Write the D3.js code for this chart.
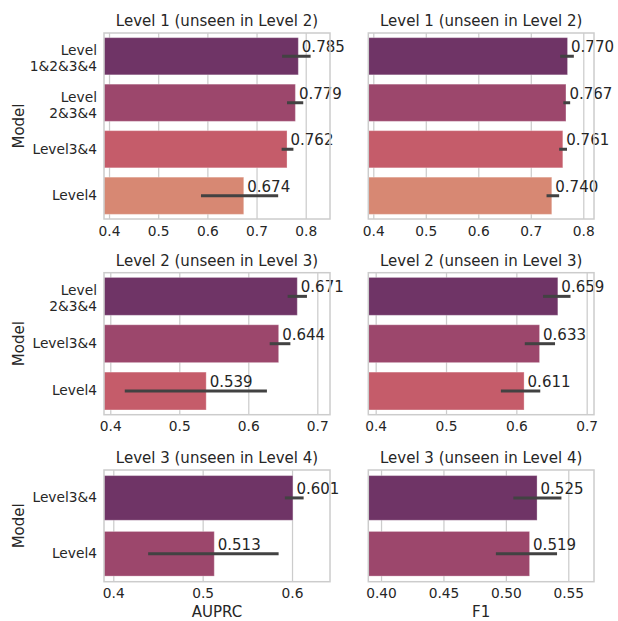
<!DOCTYPE html>
<html>
<head>
<meta charset="utf-8">
<script src="https://cdn.jsdelivr.net/npm/d3@7"></script>
<style>
  html, body { margin: 0; padding: 0; background: #fff; }
  svg { display: block; font-family: "DejaVu Sans", sans-serif; }
</style>
</head>
<body>
<svg id="chart" width="618" height="621"></svg>
<script>
// ---- data ----
const metricNames = ["AUPRC", "F1"];
const panelTitles = [
  "Level 1 (unseen in Level 2)",
  "Level 2 (unseen in Level 3)",
  "Level 3 (unseen in Level 4)"
];
const modelsLevel1 = ["Level\n1&2&3&4", "Level\n2&3&4", "Level3&4", "Level4"];
const modelsLevel2 = ["Level\n2&3&4", "Level3&4", "Level4"];
const modelsLevel3 = ["Level3&4", "Level4"];

const auprcLevel1 = [0.785, 0.779, 0.762, 0.674];
const auprcLevel1Low = [0.752, 0.762, 0.751, 0.587];
const auprcLevel1High = [0.810, 0.795, 0.775, 0.744];
const f1Level1 = [0.770, 0.767, 0.761, 0.740];
const f1Level1Low = [0.756, 0.762, 0.754, 0.730];
const f1Level1High = [0.782, 0.775, 0.769, 0.754];

const auprcLevel2 = [0.671, 0.644, 0.539];
const auprcLevel2Low = [0.657, 0.631, 0.421];
const auprcLevel2High = [0.685, 0.661, 0.627];
const f1Level2 = [0.659, 0.633, 0.611];
const f1Level2Low = [0.638, 0.612, 0.578];
const f1Level2High = [0.677, 0.655, 0.634];

const auprcLevel3 = [0.601, 0.513];
const auprcLevel3Low = [0.592, 0.439];
const auprcLevel3High = [0.613, 0.585];
const f1Level3 = [0.525, 0.519];
const f1Level3Low = [0.506, 0.492];
const f1Level3High = [0.5445, 0.541];

const ticksLevel1Auprc = [0.4, 0.5, 0.6, 0.7, 0.8];
const ticksLevel1F1 = [0.4, 0.5, 0.6, 0.7, 0.8];
const ticksLevel2Auprc = [0.4, 0.5, 0.6, 0.7];
const ticksLevel2F1 = [0.4, 0.5, 0.6, 0.7];
const ticksLevel3Auprc = [0.4, 0.5, 0.6];
const ticksLevel3F1 = [0.40, 0.45, 0.50, 0.55];

const limitsLevel1Auprc = [0.3898, 0.8494];
const limitsLevel1F1 = [0.3905, 0.8204];
const limitsLevel2Auprc = [0.3909, 0.7184];
const limitsLevel2F1 = [0.3895, 0.7104];
const limitsLevel3Auprc = [0.3896, 0.6425];
const limitsLevel3F1 = [0.3898, 0.5706];

const palette = ["#6f3466", "#9c476c", "#c55c6a", "#d78873"];

// ---- layout ----
const colX = [[104, 330], [368.3, 594]];
const rowY = [[33, 219], [272.7, 414.7], [470, 581.7]];
const textColor = "#262626";
const gridColor = "#cccccc";
const fontFamily = "'DejaVu Sans', sans-serif";

const panels = [
  { row: 0, col: 0, models: modelsLevel1, v: auprcLevel1, lo: auprcLevel1Low, hi: auprcLevel1High, ticks: ticksLevel1Auprc, lim: limitsLevel1Auprc, fmt: ".1f" },
  { row: 0, col: 1, models: modelsLevel1, v: f1Level1, lo: f1Level1Low, hi: f1Level1High, ticks: ticksLevel1F1, lim: limitsLevel1F1, fmt: ".1f" },
  { row: 1, col: 0, models: modelsLevel2, v: auprcLevel2, lo: auprcLevel2Low, hi: auprcLevel2High, ticks: ticksLevel2Auprc, lim: limitsLevel2Auprc, fmt: ".1f" },
  { row: 1, col: 1, models: modelsLevel2, v: f1Level2, lo: f1Level2Low, hi: f1Level2High, ticks: ticksLevel2F1, lim: limitsLevel2F1, fmt: ".1f" },
  { row: 2, col: 0, models: modelsLevel3, v: auprcLevel3, lo: auprcLevel3Low, hi: auprcLevel3High, ticks: ticksLevel3Auprc, lim: limitsLevel3Auprc, fmt: ".1f" },
  { row: 2, col: 1, models: modelsLevel3, v: f1Level3, lo: f1Level3Low, hi: f1Level3High, ticks: ticksLevel3F1, lim: limitsLevel3F1, fmt: ".2f" }
];

const svg = d3.select("#chart");

panels.forEach(p => {
  const [x0, x1] = colX[p.col];
  const [y0, y1] = rowY[p.row];
  const h = y1 - y0;

  const x = d3.scaleLinear().domain(p.lim).range([x0, x1]);
  const y = d3.scaleBand().domain(p.models).range([y0, y1])
    .paddingInner(0.2).paddingOuter(0.1);
  const g = svg.append("g");

  // vertical grid lines + tick labels
  const xAxis = g.append("g")
    .attr("transform", `translate(0,${y1})`)
    .call(d3.axisBottom(x).tickValues(p.ticks).tickSize(-h).tickPadding(7)
      .tickFormat(d3.format(p.fmt)))
    .attr("font-family", fontFamily)
    .attr("font-size", 13.75);
  xAxis.select(".domain").remove();
  xAxis.selectAll(".tick line").attr("stroke", gridColor).attr("stroke-width", 1.25);
  xAxis.selectAll(".tick text").attr("fill", textColor);

  // bars
  g.selectAll("rect.bar").data(p.v).enter().append("rect")
    .attr("class", "bar")
    .attr("x", x(p.lim[0]))
    .attr("y", (d, i) => y(p.models[i]))
    .attr("width", d => x(d) - x(p.lim[0]))
    .attr("height", y.bandwidth())
    .attr("fill", (d, i) => palette[i])
    .attr("stroke", "#ffffff")
    .attr("stroke-opacity", 0.3)
    .attr("stroke-width", 1);

  // confidence intervals
  g.selectAll("line.err").data(p.v).enter().append("line")
    .attr("class", "err")
    .attr("x1", (d, i) => x(p.lo[i]))
    .attr("x2", (d, i) => x(p.hi[i]))
    .attr("y1", (d, i) => y(p.models[i]) + y.bandwidth() / 2)
    .attr("y2", (d, i) => y(p.models[i]) + y.bandwidth() / 2)
    .attr("stroke", "#424242")
    .attr("stroke-width", 3);

  // value labels
  g.selectAll("text.val").data(p.v).enter().append("text")
    .attr("class", "val")
    .attr("x", d => x(d) + 3.5)
    .attr("y", (d, i) => y(p.models[i]) + y.bandwidth() / 2 - 4)
    .attr("fill", textColor)
    .attr("font-family", fontFamily)
    .attr("font-size", 15)
    .text(d => d3.format(".3f")(d));

  // frame
  g.append("rect")
    .attr("x", x0).attr("y", y0)
    .attr("width", x1 - x0).attr("height", h)
    .attr("fill", "none")
    .attr("stroke", gridColor)
    .attr("stroke-width", 1.5);

  // title
  g.append("text")
    .attr("x", (x0 + x1) / 2)
    .attr("y", y0 - 7)
    .attr("text-anchor", "middle")
    .attr("fill", textColor)
    .attr("font-family", fontFamily)
    .attr("font-size", 15)
    .text(panelTitles[p.row]);

  if (p.col === 0) {
    const yAxis = g.append("g")
      .attr("transform", `translate(${x0},0)`)
      .call(d3.axisLeft(y).tickSize(0).tickPadding(7))
      .attr("font-family", fontFamily)
      .attr("font-size", 13.75);
    yAxis.select(".domain").remove();
    yAxis.selectAll(".tick text")
      .attr("fill", textColor)
      .each(function (d) {
        const lines = d.split("\n");
        if (lines.length > 1) {
          const t = d3.select(this).text(null).attr("dy", null);
          lines.forEach((ln, k) => {
            t.append("tspan").attr("x", -7).attr("y", -1 + k * 15.8).text(ln);
          });
        }
      });

    g.append("text")
      .attr("transform", `translate(24,${(y0 + y1) / 2}) rotate(-90)`)
      .attr("text-anchor", "middle")
      .attr("fill", textColor)
      .attr("font-family", fontFamily)
      .attr("font-size", 15)
      .text("Model");
  }

  if (p.row === 2) {
    g.append("text")
      .attr("x", (x0 + x1) / 2)
      .attr("y", 617)
      .attr("text-anchor", "middle")
      .attr("fill", textColor)
      .attr("font-family", fontFamily)
      .attr("font-size", 15)
      .text(metricNames[p.col]);
  }
});
</script>
</body>
</html>
